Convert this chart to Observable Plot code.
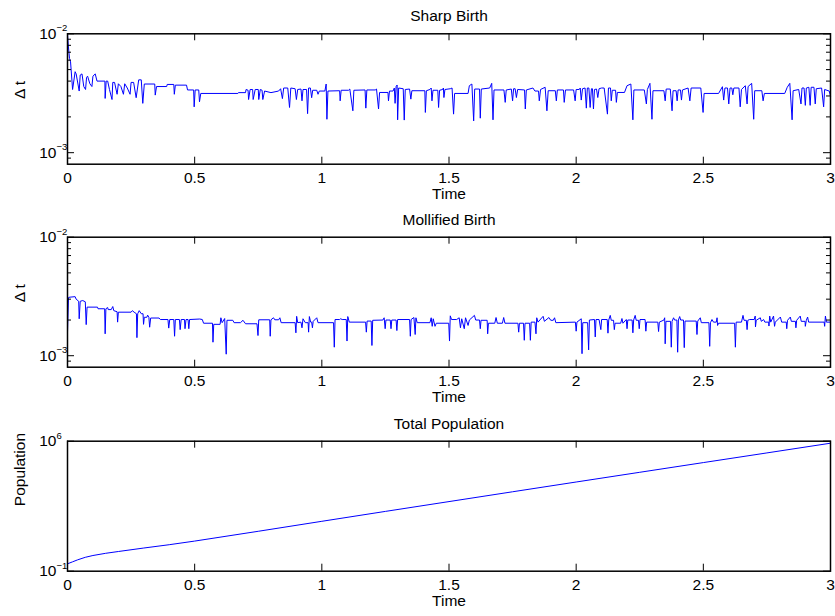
<!DOCTYPE html>
<html><head><meta charset="utf-8">
<script src="https://cdn.jsdelivr.net/npm/d3@7"></script>
<script src="https://cdn.jsdelivr.net/npm/@observablehq/plot@0.6"></script>
<style>
html,body{margin:0;padding:0;background:#fff;overflow:hidden}
#chart svg{display:block}
</style></head><body><div id="chart"></div>
<script>
const xTicks = [0, 0.5, 1, 1.5, 2, 2.5, 3];
const xTickLabels = ["0", "0.5", "1", "1.5", "2", "2.5", "3"];
const titles = ["Sharp Birth", "Mollified Birth", "Total Population"];
const xLabel = "Time";
const yLabels = ["Δ t", "Δ t", "Population"];
const dtMajorTicks = [1e-3, 1e-2];
const dtMajorExps = ["−3", "−2"];
const dtMinorTicks = [9e-4, 2e-3, 3e-3, 4e-3, 5e-3, 6e-3, 7e-3, 8e-3, 9e-3];
const popMajorTicks = [1e-1, 1e6];
const popMajorExps = ["−1", "6"];

// Δt values in units of 1e-3, [time, Δt]
const sharpBirth = [[0,10],[0.003,8.0],[0.008,6.2],[0.012,5.8],[0.02,3.4],[0.03,4.8],[0.034,4.6],[0.046,3.3],[0.05,4.5],[0.057,4.6],[0.064,3.6],[0.071,3.4],[0.075,4.3],[0.079,4.4],[0.088,3.8],[0.096,3.6],[0.1,4.4],[0.109,4.6],[0.116,4.0],[0.147,4.0],[0.148,2.86],[0.152,4.0],[0.158,4.0],[0.165,3.4],[0.175,2.8],[0.178,3.9],[0.185,3.9],[0.195,3.1],[0.2,3.8],[0.21,3.6],[0.22,3.1],[0.225,3.8],[0.235,3.5],[0.246,3.1],[0.25,3.9],[0.26,3.9],[0.27,2.9],[0.28,4.1],[0.29,4.1],[0.296,2.6],[0.302,3.78],[0.343,3.78],[0.345,3.05],[0.35,3.6],[0.39,3.6],[0.392,3.75],[0.418,3.75],[0.42,3.1],[0.424,3.7],[0.468,3.7],[0.472,3.37],[0.496,3.37],[0.498,2.43],[0.502,3.37],[0.516,3.37],[0.519,2.68],[0.524,3.15],[0.67,3.15],[0.672,3.2],[0.7,3.2],[0.702,3.4],[0.71,3.35],[0.712,2.8],[0.718,3.4],[0.728,3.4],[0.73,2.8],[0.738,3.4],[0.75,3.4],[0.752,2.8],[0.758,3.4],[0.765,3.35],[0.768,2.8],[0.775,3.3],[0.8,3.2],[0.83,3.3],[0.838,3.45],[0.845,2.85],[0.85,3.5],[0.866,3.5],[0.873,2.4],[0.878,3.5],[0.895,3.45],[0.9,2.8],[0.905,3.4],
[0.918,3.43],[0.922,2.73],[0.926,3.4],[0.94,3.4],[0.944,2.13],[0.948,3.5],[0.955,3.5],[0.96,2.9],[0.964,3.35],[0.98,3.35],[0.985,3.1],[0.99,3.3],[1.012,3.3],[1.017,3.78],[1.02,1.91],[1.024,3.3],[1.07,3.32],[1.072,2.73],[1.076,3.35],[1.105,3.35],[1.11,3.43],[1.122,2.25],[1.126,3.35],[1.17,3.37],[1.173,2.37],[1.177,3.37],[1.21,3.37],[1.215,3.43],[1.223,2.33],[1.227,3.21],[1.26,3.21],[1.262,2.73],[1.266,3.3],[1.28,3.3],[1.285,3.5],[1.288,2.6],[1.292,3.6],[1.296,3.71],[1.298,1.89],[1.302,3.5],[1.32,3.45],[1.324,1.88],[1.328,3.4],[1.345,3.43],[1.35,2.82],[1.354,3.32],[1.405,3.32],[1.407,2.18],[1.411,3.32],[1.425,3.4],[1.43,3.5],[1.433,2.73],[1.437,3.35],[1.456,3.35],[1.459,2.4],[1.463,3.35],[1.475,3.4],[1.478,3.5],[1.48,2.91],[1.484,3.4],[1.505,3.45],[1.512,3.5],[1.518,2.11],[1.522,3.15],[1.575,3.15],[1.58,3.66],[1.59,3.78],[1.597,1.85],[1.601,3.43],[1.62,3.43],[1.623,1.95],[1.627,3.43],[1.66,3.5],[1.668,3.83],[1.673,1.89],[1.677,3.37],[1.716,3.37],[1.721,2.65],[1.725,3.37],[1.745,3.43],[1.75,2.73],[1.754,3.45],[1.76,3.45],[1.765,2.91],[1.77,3.4],[1.797,3.37],[1.8,2.33],[1.804,3.37],[1.83,3.5],[1.838,3.3],[1.852,3.3],[1.855,2.73],[1.86,3.4],[1.878,3.55],[1.885,2.25],[1.89,3.32],[1.918,3.32],[1.922,2.73],[1.926,3.37],[1.95,3.37],[1.953,2.65],
[1.958,3.37],[1.99,3.37],[1.996,2.73],[2.0,3.4],[2.012,3.4],[2.016,3.5],[2.02,2.77],[2.025,3.45],[2.035,3.5],[2.04,2.37],[2.044,3.5],[2.05,3.5],[2.055,2.4],[2.06,3.45],[2.064,3.45],[2.068,2.33],[2.072,3.4],[2.08,3.43],[2.085,2.91],[2.09,3.45],[2.1,3.5],[2.11,3.5],[2.123,2.11],[2.127,3.5],[2.135,3.5],[2.138,2.73],[2.142,3.35],[2.155,3.35],[2.158,2.65],[2.162,3.21],[2.19,3.21],[2.2,3.66],[2.215,3.78],[2.223,1.89],[2.227,3.37],[2.268,3.37],[2.276,2.57],[2.28,3.4],[2.29,3.83],[2.298,1.91],[2.302,3.32],[2.345,3.32],[2.35,2.73],[2.354,3.43],[2.37,3.43],[2.377,2.25],[2.381,3.32],[2.393,3.32],[2.397,2.73],[2.401,3.37],[2.41,3.37],[2.414,2.77],[2.418,3.37],[2.44,3.5],[2.447,2.73],[2.452,3.5],[2.49,3.5],[2.499,2.18],[2.503,3.15],[2.56,3.15],[2.575,3.59],[2.58,2.77],[2.585,3.5],[2.595,3.5],[2.6,2.57],[2.605,3.5],[2.612,3.5],[2.616,3.07],[2.62,3.5],[2.64,3.5],[2.645,2.43],[2.65,3.4],[2.665,3.66],[2.672,2.57],[2.676,3.6],[2.69,3.83],[2.698,1.91],[2.702,3.32],[2.73,3.32],[2.735,2.73],[2.74,3.15],[2.82,3.15],[2.83,3.55],[2.84,3.83],[2.849,1.89],[2.853,3.32],[2.875,3.4],[2.884,2.57],[2.888,3.5],[2.896,3.5],[2.901,2.5],[2.905,3.5],[2.915,3.55],[2.92,2.5],[2.924,3.55],[2.935,3.55],[2.94,2.57],[2.944,3.45],[2.965,3.5],[2.973,2.43],[2.977,3.4],[2.995,3.3],[3.0,3.0]];

const mollifiedBirth = [[0,1.58],[0.004,3.1],[0.01,3.12],[0.03,3.15],[0.034,3.0],[0.044,2.88],[0.046,2.05],[0.05,2.88],[0.06,2.92],[0.07,2.85],[0.0735,1.83],[0.077,2.57],[0.118,2.57],[0.12,2.49],[0.146,2.49],[0.148,1.53],[0.151,2.49],[0.158,2.55],[0.16,2.45],[0.172,2.45],[0.178,2.6],[0.182,2.4],[0.195,2.35],[0.197,1.92],[0.2,2.33],[0.25,2.33],[0.255,2.4],[0.262,2.33],[0.271,2.26],[0.273,1.42],[0.276,2.26],[0.282,2.4],[0.29,2.26],[0.297,2.26],[0.299,1.84],[0.302,2.11],[0.312,2.11],[0.315,2.2],[0.32,2.11],[0.323,1.74],[0.327,2.08],[0.36,2.08],[0.365,2.02],[0.395,2.02],[0.398,1.71],[0.402,2.02],[0.418,2.02],[0.421,1.46],[0.424,2.02],[0.44,2.02],[0.443,1.66],[0.447,2.02],[0.46,2.02],[0.462,1.69],[0.466,2.02],[0.474,2.02],[0.477,1.69],[0.48,2.02],[0.52,2.04],[0.53,2.02],[0.535,1.88],[0.57,1.88],[0.572,1.30],[0.575,1.84],[0.6,1.84],[0.603,2.09],[0.608,1.9],[0.618,2.06],[0.624,1.03],[0.627,1.99],[0.65,1.99],[0.655,1.9],[0.68,1.9],[0.69,1.99],[0.7,1.86],[0.745,1.86],[0.749,1.48],[0.752,2.01],[0.795,2.01],[0.797,1.46],[0.8,2.01],[0.81,2.09],[0.815,2.01],[0.83,2.01],[0.835,2.09],[0.84,1.9],[0.895,1.9],[0.898,1.56],[0.901,2.15],[0.905,1.9],
[0.918,1.92],[0.922,1.72],[0.926,2.05],[0.935,1.9],[0.946,1.9],[0.948,1.58],[0.951,2.14],[0.956,1.92],[0.96,1.92],[0.963,1.72],[0.966,1.95],[0.98,2.09],[0.985,1.9],[1.046,1.9],[1.049,1.18],[1.052,2.02],[1.07,2.02],[1.074,2.05],[1.08,2.02],[1.096,2.02],[1.099,1.33],[1.102,2.14],[1.108,1.92],[1.172,1.92],[1.175,1.58],[1.178,1.96],[1.194,1.96],[1.197,1.22],[1.2,1.99],[1.24,2.0],[1.245,2.09],[1.249,1.69],[1.252,2.0],[1.269,2.0],[1.272,1.69],[1.275,2.0],[1.292,2.0],[1.295,1.63],[1.298,2.02],[1.345,2.02],[1.348,1.46],[1.351,2.02],[1.362,2.1],[1.367,1.51],[1.37,2.09],[1.375,1.9],[1.425,1.9],[1.43,2.09],[1.434,1.77],[1.438,2.05],[1.445,1.77],[1.45,1.88],[1.499,1.88],[1.502,1.33],[1.505,2.17],[1.51,2.02],[1.53,2.02],[1.54,2.09],[1.545,1.72],[1.55,2.05],[1.56,1.69],[1.565,2.09],[1.575,1.8],[1.58,2.0],[1.6,2.19],[1.605,2.0],[1.62,2.0],[1.623,1.69],[1.626,1.99],[1.65,1.99],[1.652,1.53],[1.655,1.88],[1.68,1.88],[1.685,2.1],[1.69,1.88],[1.71,1.88],[1.715,2.1],[1.72,1.88],[1.771,1.88],[1.774,1.58],[1.777,1.88],[1.793,1.88],[1.796,1.35],[1.799,1.88],[1.817,1.88],[1.82,1.35],[1.823,1.92],[1.838,1.92],[1.842,1.53],[1.845,2.09],[1.85,1.92],[1.87,2.15],[1.875,1.95],[1.893,2.1],[1.9,1.99],[1.91,1.99],[1.915,2.09],[1.92,1.9],[1.997,1.92],[2.0,1.61],[2.003,1.92],[2.02,2.05],[2.023,1.04],[2.026,1.9],[2.045,1.9],[2.049,1.12],[2.052,2.0],[2.072,2.02],[2.075,1.44],[2.078,2.02],
[2.09,2.02],[2.097,1.66],[2.1,2.02],[2.122,2.02],[2.125,1.55],[2.128,2.0],[2.134,2.19],[2.138,1.99],[2.147,1.99],[2.15,1.66],[2.153,1.88],[2.175,1.88],[2.18,2.06],[2.184,1.88],[2.197,2.02],[2.2,1.69],[2.203,2.0],[2.22,2.0],[2.223,1.56],[2.226,2.0],[2.232,2.19],[2.236,1.99],[2.245,1.99],[2.248,1.69],[2.251,2.02],[2.271,2.02],[2.274,1.61],[2.277,1.92],[2.321,1.92],[2.324,1.60],[2.327,1.92],[2.345,2.0],[2.348,2.09],[2.35,1.26],[2.353,1.95],[2.371,1.95],[2.374,1.18],[2.377,1.95],[2.383,2.09],[2.387,2.0],[2.396,2.0],[2.399,1.07],[2.402,2.0],[2.407,2.14],[2.411,2.0],[2.422,2.0],[2.425,1.17],[2.428,1.96],[2.472,1.96],[2.475,1.51],[2.478,1.96],[2.488,2.09],[2.492,1.9],[2.522,1.9],[2.525,1.2],[2.528,1.9],[2.534,2.02],[2.54,1.92],[2.551,1.92],[2.554,2.09],[2.556,1.8],[2.56,1.88],[2.623,1.88],[2.626,1.18],[2.629,1.92],[2.65,1.92],[2.656,2.19],[2.66,1.99],[2.669,1.99],[2.672,1.66],[2.675,1.99],[2.682,2.02],[2.7,2.02],[2.704,2.16],[2.705,1.75],[2.708,1.99],[2.724,2.09],[2.728,1.95],[2.737,2.02],[2.742,1.92],[2.757,1.92],[2.758,1.78],[2.761,2.16],[2.765,1.92],[2.776,2.16],[2.78,1.77],[2.783,1.92],[2.803,2.12],[2.808,1.92],[2.826,1.92],[2.828,1.69],[2.831,1.99],[2.842,2.12],[2.846,1.95],[2.862,1.95],[2.864,1.72],[2.867,1.99],[2.881,2.16],[2.885,1.95],[2.9,1.95],[2.901,1.77],[2.905,1.99],[2.91,2.12],[2.914,1.92],[2.975,1.92],[2.977,1.77],[2.98,2.16],[2.984,1.92],[3.0,1.92]];

const popTime  = [0, 0.02, 0.04, 0.07, 0.1, 0.15, 0.2, 0.3, 0.4, 0.5, 0.75, 1, 1.25, 1.5, 1.75, 2, 2.25, 2.5, 2.75, 3];
const popValue = [0.25, 0.32, 0.41, 0.56, 0.70, 0.92, 1.15, 1.77, 2.67, 4.18, 14.1, 48.6, 166, 560, 1890, 6350, 21200, 70500, 234000, 780000];

const W = 835, ML = 67, MR = 5;
const FONT = "'Liberation Sans', Arial, Helvetica, sans-serif";
const FS = 15.5;

function panel({height, mt, mb, data, domain, major, exps, minor, title, ylabel}) {
  const innerH = height - mt - mb;
  const innerW = W - ML - MR;
  const majorData = major.map((v, i) => ({v, e: exps[i]}));
  const xLab = xTicks.map((t, i) => ({t, s: xTickLabels[i]}));
  const txt = {fontSize: FS, fill: "#000", lineAnchor: "middle"};
  const marks = [
    Plot.line(data, {x: "t", y: "v", stroke: "#0000ff", strokeWidth: 1}),
    Plot.tickX(xTicks, {x: d => d, insetTop: innerH - 7, stroke: "#000", strokeWidth: 1}),
    Plot.tickX(xTicks, {x: d => d, insetBottom: innerH - 7, stroke: "#000", strokeWidth: 1}),
    Plot.tickY(major, {y: d => d, insetRight: innerW - 7, stroke: "#000", strokeWidth: 1}),
    Plot.tickY(major, {y: d => d, insetLeft: innerW - 7, stroke: "#000", strokeWidth: 1}),
    Plot.tickY(minor, {y: d => d, insetRight: innerW - 4, stroke: "#000", strokeWidth: 1}),
    Plot.tickY(minor, {y: d => d, insetLeft: innerW - 4, stroke: "#000", strokeWidth: 1}),
    Plot.frame({stroke: "#000", strokeWidth: 1.5}),
    Plot.text(xLab, {x: "t", text: "s", frameAnchor: "bottom", dy: 13.5, ...txt}),
    Plot.text(majorData, {y: "v", text: () => "10", frameAnchor: "left", textAnchor: "end", dx: -11, ...txt}),
    Plot.text(majorData, {y: "v", text: "e", frameAnchor: "left", textAnchor: "start", dx: -11, dy: -5.5, fontSize: 9.5, fill: "#000", lineAnchor: "middle"}),
    Plot.text([title], {text: d => d, frameAnchor: "top", dy: -17.5, ...txt}),
    Plot.text([xLabel], {text: d => d, frameAnchor: "bottom", dy: 30, ...txt}),
    Plot.text([ylabel], {text: d => d, frameAnchor: "left", dx: -47, rotate: -90, ...txt})
  ];
  return Plot.plot({
    width: W, height,
    marginLeft: ML, marginRight: MR, marginTop: mt, marginBottom: mb,
    style: {fontFamily: FONT, fontSize: FS + "px", background: "#fff", color: "#000"},
    x: {domain: [0, 3], axis: null},
    y: {type: "log", domain, axis: null},
    marks
  });
}

const sharpData = sharpBirth.map(([t, v]) => ({t, v: v * 1e-3}));
const mollData = mollifiedBirth.map(([t, v]) => ({t, v: v * 1e-3}));
const popData = popTime.map((t, i) => ({t, v: popValue[i]}));

const root = document.getElementById("chart");
root.append(panel({height: 203, mt: 33.3, mb: 39.3, data: sharpData, domain: [8e-4, 1e-2],
  major: dtMajorTicks, exps: dtMajorExps, minor: dtMinorTicks, title: titles[0], ylabel: yLabels[0]}));
root.append(panel({height: 203, mt: 33.7, mb: 39.3, data: mollData, domain: [8e-4, 1e-2],
  major: dtMajorTicks, exps: dtMajorExps, minor: dtMinorTicks, title: titles[1], ylabel: yLabels[1]}));
root.append(panel({height: 210, mt: 34.7, mb: 45.3, data: popData, domain: [1e-1, 1e6],
  major: popMajorTicks, exps: popMajorExps, minor: [], title: titles[2], ylabel: yLabels[2]}));
</script></body></html>
